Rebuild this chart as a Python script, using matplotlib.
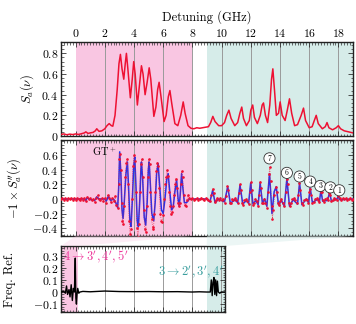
import numpy as np
import matplotlib
matplotlib.use("Agg")
import matplotlib.pyplot as plt
from matplotlib.ticker import MultipleLocator
from matplotlib.patches import Polygon

plt.rcParams['font.family'] = 'serif'
plt.rcParams['font.serif'] = ['cmr10', 'DejaVu Serif']
plt.rcParams['mathtext.fontset'] = 'cm'
plt.rcParams['axes.formatter.use_mathtext'] = True

# ---- data ----
# top panel: absorption spectrum S_a(nu)
nu_s = [-1.0, -0.8, -0.6, -0.4, -0.2, 0.0, 0.2, 0.4, 0.6, 0.7, 0.85, 1.0, 1.2, 1.35, 1.45, 1.6, 1.8, 2.0,
        2.15, 2.3, 2.45, 2.55, 2.7, 2.85, 2.97, 3.07, 3.18, 3.3, 3.4, 3.48, 3.58, 3.75, 3.88, 3.98, 4.08,
        4.23, 4.38, 4.51, 4.62, 4.76, 4.9, 5.04, 5.15, 5.36, 5.5, 5.62, 5.72, 5.85, 6.06, 6.2, 6.35, 6.46,
        6.58, 6.8, 7.0, 7.2, 7.37, 7.5, 7.7, 7.9, 8.1, 8.3, 8.5, 8.7, 8.9, 9.1, 9.25, 9.4, 9.55, 9.8, 10.0,
        10.2, 10.35, 10.5, 10.65, 10.9, 11.1, 11.25, 11.38, 11.5, 11.7, 11.9, 12.0, 12.13, 12.25, 12.45,
        12.65, 12.78, 12.87, 13.0, 13.15, 13.3, 13.42, 13.51, 13.62, 13.75, 13.9, 14.01, 14.15, 14.35,
        14.5, 14.65, 14.8, 15.0, 15.2, 15.45, 15.61, 15.75, 16.0, 16.2, 16.35, 16.48, 16.62, 16.9, 17.1,
        17.22, 17.35, 17.6, 17.85, 18.0, 18.15, 18.4, 18.7, 19.0]
s_a = [0.015, 0.02, 0.012, 0.018, 0.014, 0.02, 0.015, 0.022, 0.03, 0.04, 0.025, 0.03, 0.035, 0.05, 0.07,
       0.045, 0.05, 0.07, 0.1, 0.12, 0.1, 0.095, 0.2, 0.45, 0.7, 0.79, 0.65, 0.55, 0.7, 0.8, 0.65, 0.37,
       0.55, 0.72, 0.6, 0.3, 0.5, 0.68, 0.6, 0.4, 0.52, 0.66, 0.55, 0.19, 0.28, 0.45, 0.52, 0.38, 0.14,
       0.2, 0.38, 0.44, 0.32, 0.12, 0.1, 0.2, 0.33, 0.22, 0.1, 0.075, 0.07, 0.08, 0.075, 0.08, 0.085,
       0.09, 0.13, 0.19, 0.14, 0.1, 0.1, 0.13, 0.2, 0.25, 0.17, 0.1, 0.13, 0.22, 0.28, 0.17, 0.1, 0.15,
       0.25, 0.3, 0.18, 0.12, 0.2, 0.3, 0.32, 0.2, 0.13, 0.3, 0.55, 0.65, 0.45, 0.2, 0.22, 0.33, 0.2,
       0.15, 0.25, 0.36, 0.22, 0.1, 0.11, 0.2, 0.27, 0.15, 0.08, 0.09, 0.15, 0.2, 0.12, 0.07, 0.09, 0.13,
       0.08, 0.06, 0.08, 0.1, 0.07, 0.05, 0.04, 0.03]

# middle panel: -S''_a, fit (blue)
nu_fit = [-1.0, 0.0, 0.6, 0.7, 0.8, 0.9, 1.3, 1.45, 1.6, 2.0, 2.1, 2.25, 2.4, 2.6, 2.75, 2.88, 2.95, 3.02,
          3.1, 3.18, 3.25, 3.33, 3.45, 3.55, 3.63, 3.72, 3.8, 3.9, 3.98, 4.05, 4.13, 4.22, 4.3, 4.4, 4.47,
          4.51, 4.6, 4.7, 4.8, 4.9, 4.98, 5.04, 5.12, 5.22, 5.35, 5.45, 5.55, 5.65, 5.75, 5.88, 6.0, 6.12,
          6.25, 6.34, 6.45, 6.58, 6.68, 6.8, 6.92, 7.02, 7.1, 7.18, 7.26, 7.35, 7.45, 7.6, 7.8, 9.0, 9.2,
          9.39, 9.55, 9.8, 10.2, 10.42, 10.6, 10.9, 11.1, 11.26, 11.45, 11.7, 11.85, 11.99, 12.15, 12.35,
          12.5, 12.64, 12.8, 12.95, 13.1, 13.28, 13.45, 13.6, 13.74, 13.9, 14.1, 14.3, 14.47, 14.65, 14.9,
          15.2, 15.34, 15.5, 15.8, 15.95, 16.07, 16.22, 16.6, 16.7, 16.8, 16.92, 17.25, 17.4, 17.52, 17.9,
          18.0, 18.1, 19.0]
d2_fit = [0.0, 0.0, 0.0, -0.02, 0.02, 0.0, -0.02, 0.03, 0.0, 0.0, -0.03, 0.04, -0.02, 0.0, -0.05, -0.12,
          0.15, 0.65, 0.35, -0.15, -0.27, -0.05, 0.35, 0.51, 0.15, -0.3, -0.38, 0.05, 0.45, 0.58, 0.2,
          -0.3, -0.38, 0.0, 0.4, 0.51, 0.25, -0.25, -0.36, -0.05, 0.4, 0.51, 0.2, -0.2, -0.3, -0.05, 0.35,
          0.49, 0.2, -0.15, -0.2, 0.0, 0.28, 0.35, 0.1, -0.15, -0.12, 0.1, 0.26, 0.0, -0.1, 0.1, 0.35,
          0.15, -0.05, -0.05, 0.0, 0.0, -0.04, 0.12, -0.05, 0.0, -0.04, 0.17, -0.06, -0.01, -0.05, 0.19,
          -0.07, -0.02, -0.06, 0.22, -0.07, -0.02, -0.08, 0.22, -0.06, 0.0, -0.1, 0.35, -0.2, 0.1, 0.17,
          -0.08, -0.02, -0.1, 0.28, -0.1, -0.01, -0.07, 0.22, -0.08, 0.0, -0.05, 0.15, -0.05, 0.0, -0.04,
          0.12, -0.03, -0.02, 0.09, -0.03, 0.0, 0.04, -0.01, 0.0]

# middle panel: measured points (red)
nu_dat = [-1.0, -0.9, -0.8, -0.7, -0.6, -0.5, -0.4, -0.3, -0.2, -0.1, 0.0, 0.1, 0.2, 0.3, 0.4, 0.5, 0.6,
          0.7, 0.8, 0.9, 1.0, 1.1, 1.2, 1.3, 1.4, 1.5, 1.6, 1.7, 1.8, 1.9, 2.0, 2.1, 2.2, 2.3, 2.4, 2.5,
          2.6, 2.7, 2.8, 2.9, 2.95, 3.0, 3.05, 3.1, 3.15, 3.2, 3.27, 3.33, 3.4, 3.47, 3.53, 3.6, 3.67, 3.73,
          3.8, 3.87, 3.93, 4.0, 4.07, 4.13, 4.2, 4.27, 4.33, 4.4, 4.47, 4.53, 4.6, 4.67, 4.73, 4.8, 4.87,
          4.93, 5.0, 5.07, 5.13, 5.2, 5.27, 5.33, 5.4, 5.47, 5.53, 5.6, 5.67, 5.73, 5.8, 5.87, 5.93, 6.0,
          6.07, 6.13, 6.2, 6.27, 6.33, 6.4, 6.47, 6.53, 6.6, 6.67, 6.73, 6.8, 6.87, 6.93, 7.0, 7.07, 7.13,
          7.2, 7.27, 7.33, 7.4, 7.47, 7.53, 7.6, 7.7, 7.8, 7.9, 8.0, 8.1, 8.2, 8.3, 8.4, 8.5, 8.6, 8.7,
          8.8, 8.9, 9.0, 9.1, 9.2, 9.3, 9.38, 9.45, 9.52, 9.6, 9.7, 9.8, 9.9, 10.0, 10.1, 10.2, 10.3, 10.4,
          10.47, 10.55, 10.63, 10.7, 10.8, 10.9, 11.0, 11.1, 11.18, 11.25, 11.32, 11.4, 11.48, 11.55,
          11.65, 11.75, 11.85, 11.93, 12.0, 12.07, 12.15, 12.23, 12.3, 12.4, 12.5, 12.57, 12.64, 12.7,
          12.78, 12.85, 12.92, 13.0, 13.1, 13.18, 13.25, 13.3, 13.35, 13.42, 13.48, 13.55, 13.62, 13.7,
          13.77, 13.85, 13.93, 14.0, 14.1, 14.2, 14.3, 14.38, 14.45, 14.52, 14.6, 14.68, 14.75, 14.85,
          14.95, 15.05, 15.15, 15.25, 15.33, 15.4, 15.48, 15.56, 15.65, 15.75, 15.85, 15.95, 16.02, 16.08,
          16.15, 16.22, 16.3, 16.4, 16.5, 16.6, 16.7, 16.78, 16.85, 16.92, 17.0, 17.1, 17.2, 17.3, 17.38,
          17.45, 17.52, 17.6, 17.7, 17.8, 17.9, 18.0, 18.1, 18.2, 18.3, 18.4, 18.5, 18.6, 18.7, 18.8,
          18.9, 19.0]
d2_dat = [0.0, 0.02, -0.01, 0.01, -0.02, 0.01, 0.0, 0.02, -0.01, 0.01, -0.02, 0.01, 0.0, -0.02, 0.02,
          -0.01, 0.01, -0.03, 0.03, 0.0, 0.01, -0.02, 0.0, -0.04, 0.02, 0.05, 0.0, -0.02, 0.01, -0.03,
          0.02, -0.05, 0.06, 0.02, -0.04, 0.01, -0.03, 0.04, -0.08, -0.12, 0.2, 0.55, 0.62, 0.4, -0.05,
          -0.3, -0.35, -0.1, 0.3, 0.5, 0.55, 0.2, -0.3, -0.48, -0.42, 0.0, 0.45, 0.6, 0.52, 0.1, -0.4,
          -0.52, -0.35, 0.1, 0.48, 0.55, 0.3, -0.15, -0.42, -0.45, -0.1, 0.3, 0.55, 0.48, 0.1, -0.28,
          -0.38, -0.42, -0.2, 0.1, 0.38, 0.5, 0.45, 0.15, -0.2, -0.3, -0.32, -0.22, 0.0, 0.2, 0.3, 0.4,
          0.32, 0.1, -0.1, -0.2, -0.18, -0.1, 0.05, 0.2, 0.28, 0.15, -0.05, -0.1, -0.05, 0.2, 0.38, 0.3,
          0.05, -0.08, -0.1, -0.02, 0.05, 0.02, 0.0, 0.01, -0.01, 0.0, 0.01, -0.01, 0.0, 0.02, 0.0, -0.01,
          0.01, 0.0, -0.02, -0.03, 0.05, 0.14, 0.08, -0.04, -0.02, 0.01, -0.01, 0.01, -0.02, 0.0, -0.05,
          0.04, 0.18, 0.12, -0.05, -0.06, 0.0, -0.01, 0.01, -0.02, -0.06, 0.08, 0.2, 0.12, -0.06, -0.08,
          -0.02, 0.0, -0.03, -0.07, 0.1, 0.23, 0.12, -0.08, -0.06, 0.0, -0.03, -0.1, 0.05, 0.24, 0.15,
          -0.05, -0.06, 0.0, -0.05, -0.12, 0.1, 0.35, 0.44, 0.25, -0.1, -0.27, -0.15, 0.05, 0.16, 0.1,
          -0.05, -0.08, -0.03, 0.0, -0.05, -0.1, 0.1, 0.28, 0.2, -0.05, -0.1, -0.05, 0.0, 0.01, -0.02,
          -0.06, 0.05, 0.22, 0.12, -0.06, -0.08, -0.02, 0.0, -0.01, -0.05, 0.1, 0.14, 0.05, -0.05, -0.04,
          0.0, 0.01, -0.02, -0.04, 0.1, 0.1, -0.02, -0.04, 0.0, 0.01, -0.02, 0.08, 0.06, -0.03, -0.01,
          0.01, 0.0, -0.01, 0.04, 0.02, -0.01, 0.01, 0.0, 0.01, -0.01, 0.0, 0.01, -0.01, 0.0]

# bottom panel: frequency reference
nu_ref = [-1.0, -0.8, -0.7, -0.62, -0.55, -0.45, -0.38, -0.3, -0.22, -0.15, -0.08, -0.02, 0.02, 0.06,
          0.1, 0.15, 0.22, 0.3, 0.5, 1.0, 1.5, 2.0, 3.0, 4.0, 5.0, 6.0, 7.0, 8.0, 8.5, 9.0, 9.25, 9.32,
          9.38, 9.44, 9.5, 9.56, 9.62, 9.68, 9.74, 9.8, 9.9, 10.0, 10.25]
ref = [0.0, 0.005, -0.01, 0.05, -0.02, 0.02, -0.04, 0.06, -0.07, 0.03, 0.0, 0.28, -0.05, -0.1, -0.02,
       0.03, -0.01, 0.0, 0.005, 0.002, 0.005, 0.008, 0.004, 0.003, 0.004, 0.002, 0.003, 0.0, 0.002, 0.0,
       0.0, 0.1, -0.03, 0.08, 0.12, -0.02, 0.1, -0.03, 0.09, 0.0, -0.01, 0.0, 0.0]

peak_labels = ['7', '6', '5', '4', '3', '2', '1']
peak_nu = [13.28, 14.47, 15.34, 16.07, 16.76, 17.45, 18.06]
peak_y = [0.56, 0.36, 0.31, 0.24, 0.18, 0.16, 0.12]

pink = '#f9c6e2'
teal = '#d6ece9'
red = '#ee1133'
blue = '#2233ee'

W, H = 356, 324
fig = plt.figure(figsize=(W / 100, H / 100), dpi=100)
ax1 = fig.add_axes([61 / W, 1 - 136 / H, 292 / W, 94 / H])
ax2 = fig.add_axes([61 / W, 1 - 236 / H, 292 / W, 96.5 / H])
ax3 = fig.add_axes([61 / W, 1 - 312 / H, 164 / W, 66 / H])


def style(ax, xmin, xmax):
    ax.set_xlim(xmin, xmax)
    ax.xaxis.set_major_locator(MultipleLocator(2))
    ax.xaxis.set_minor_locator(MultipleLocator(0.2))
    ax.tick_params(which='both', direction='in', top=True, right=True, labelsize=8.5,
                   color='#333333', pad=2)
    ax.tick_params(which='major', length=3.5, width=0.6)
    ax.tick_params(which='minor', length=1.8, width=0.5)
    for s in ax.spines.values():
        s.set_color('#222222')
        s.set_linewidth(1.0)
    for v in range(2, 20, 2):
        if xmin < v < xmax:
            ax.axvline(v, color='#9a9a9a', lw=0.7, zorder=1)


def mlabels(vals):
    return ['$%g$' % v for v in vals]


for ax in (ax1, ax2):
    ax.axvspan(0, 8, color=pink, lw=0, zorder=0)
    ax.axvspan(9, 19, color=teal, lw=0, zorder=0)
    style(ax, -1, 19)

# top
ax1.plot(nu_s, s_a, color=red, lw=1.1, zorder=3)
ax1.set_ylim(0, 0.91)
ax1.yaxis.set_minor_locator(MultipleLocator(0.04))
ax1.set_yticks([0, 0.2, 0.4, 0.6, 0.8])
ax1.set_yticklabels(mlabels([0, 0.2, 0.4, 0.6, 0.8]))
ax1.tick_params(labeltop=True, labelbottom=False)
ax1.xaxis.set_label_position('top')
ax1.set_xlabel('Detuning (GHz)', fontsize=9, labelpad=5)
ax1.set_ylabel(r'$S_a(\nu)$', fontsize=9, labelpad=4)

# middle
ax2.plot(nu_fit, d2_fit, color=blue, lw=1.1, zorder=3)
ax2.plot(nu_dat, d2_dat, color=red, lw=0.5, ls=':', marker='.', ms=1.8, zorder=4)
ax2.set_ylim(-0.51, 0.82)
ax2.set_yticks([-0.4, -0.2, 0, 0.2, 0.4, 0.6])
ax2.set_yticklabels(mlabels([-0.4, -0.2, 0, 0.2, 0.4, 0.6]))
ax2.yaxis.set_minor_locator(MultipleLocator(0.05))
ax2.tick_params(labelbottom=False)
ax2.set_ylabel(r'$-1\times S^{\prime\prime}_a(\nu)$', fontsize=9, labelpad=7)
ax2.text(2.0, 0.65, r'GT$^+$', fontsize=7.5, ha='center', va='center')
for lab, x, y in zip(peak_labels, peak_nu, peak_y):
    ax2.text(x, y, lab, fontsize=5.5, ha='center', va='center', zorder=6,
             bbox=dict(boxstyle='circle,pad=0.18', fc='white', ec='#333333', lw=0.6))

# bottom
ax3.axvspan(-1, 0.2, color=pink, lw=0, zorder=0)
ax3.axvspan(9, 10.26, color=teal, lw=0, zorder=0)
style(ax3, -1, 10.26)
ax3.plot(nu_ref, ref, color='black', lw=1.0, zorder=3)
ax3.set_ylim(-0.165, 0.38)
ax3.set_yticks([-0.1, 0, 0.1, 0.2, 0.3])
ax3.set_yticklabels(mlabels([-0.1, 0, 0.1, 0.2, 0.3]))
ax3.yaxis.set_minor_locator(MultipleLocator(0.02))
ax3.tick_params(labelbottom=False)
ax3.set_ylabel('Freq. Ref.', fontsize=9, labelpad=12)
ax3.text(-0.88, 0.29, r"$4\rightarrow 3^\prime,4^\prime,5^\prime$", color='#ee3399', fontsize=9,
         ha='left', va='center')
ax3.text(10.15, 0.17, r"$3\rightarrow 2^\prime,3^\prime,4^\prime$", color='#3a9e9e', fontsize=9,
         ha='right', va='center')

# connectors between middle and bottom panels
inv = fig.transFigure.inverted()


def fpt(ax, x, y):
    return inv.transform(ax.transData.transform((x, y)))


y2b = ax2.get_ylim()[0]
y3t = ax3.get_ylim()[1]
fig.patches.append(Polygon([fpt(ax2, 0, y2b), fpt(ax2, 8, y2b), fpt(ax3, 0.2, y3t), fpt(ax3, -1, y3t)],
                           closed=True, transform=fig.transFigure, fc=pink, alpha=0.3, lw=0))
fig.patches.append(Polygon([fpt(ax2, 9, y2b), fpt(ax2, 19, y2b), fpt(ax3, 10.26, y3t), fpt(ax3, 9, y3t)],
                           closed=True, transform=fig.transFigure, fc=teal, alpha=0.45, lw=0))

fig.savefig('out.png', dpi=100)
